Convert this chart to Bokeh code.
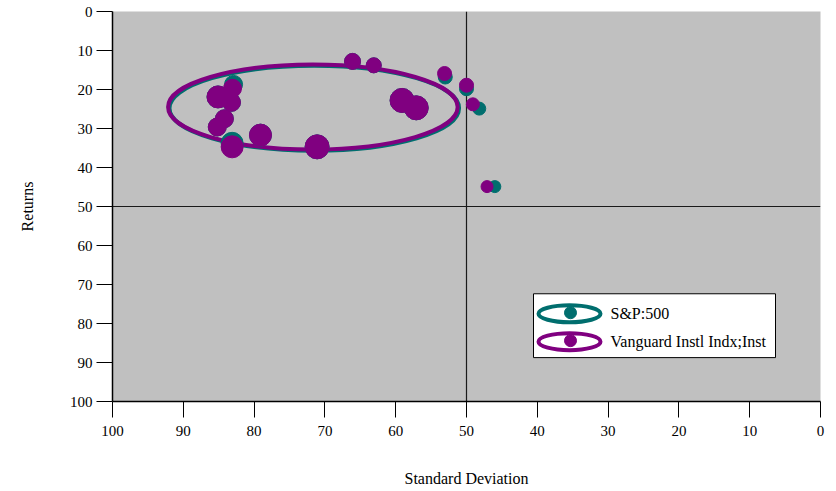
from bokeh.plotting import figure
from bokeh.models import Range1d, FixedTicker, Span
from bokeh.embed import file_html
from bokeh.resources import INLINE
from bokeh.core.properties import value

# ---- data -------------------------------------------------------------
sd_ticks = [0, 10, 20, 30, 40, 50, 60, 70, 80, 90, 100]
ret_ticks = [0, 10, 20, 30, 40, 50, 60, 70, 80, 90, 100]
quadrant_sd = 50
quadrant_ret = 50

series_names = ["S&P:500", "Vanguard Instl Indx;Inst"]

# S&P 500 (teal)
sp_sd = [66.1, 63.1, 53.0, 50.0, 48.2, 46.0, 59.1, 57.1, 71.1, 79.1, 83.1, 85.2, 84.2, 85.1, 82.9, 83.2]
sp_ret = [12.8, 13.8, 16.8, 19.8, 24.9, 44.9, 22.8, 24.7, 34.7, 31.7, 33.8, 29.6, 27.5, 21.9, 18.7, 23.3]
sp_size = [16, 15, 14, 14, 13, 12, 24, 24, 24, 22, 22, 18, 18, 22, 18, 18]

# Vanguard Instl Indx;Inst (purple)
vg_sd = [66.1, 63.1, 53.1, 50.0, 49.1, 47.1, 59.1, 57.1, 71.1, 79.1, 83.1, 85.2, 84.2, 85.1, 83.05, 83.2]
vg_ret = [12.8, 13.8, 15.9, 18.9, 23.8, 44.9, 22.8, 24.7, 34.7, 31.7, 34.7, 29.6, 27.5, 21.9, 19.7, 23.3]
vg_size = [16, 15, 14, 14, 13, 12, 24, 24, 24, 22, 22, 18, 18, 22, 18, 18]

# summary ellipses (centre sd, centre return, sd width, return height)
ell_sd = [71.5, 71.7]
ell_ret = [24.8, 24.5]
ell_w = [40.9, 40.9]
ell_h = [21.8, 21.8]

teal = "#006e6e"
purple = "#800080"
serif = "Liberation Serif"

# ---- figure -----------------------------------------------------------
p = figure(width=828, height=489,
           x_range=Range1d(100, 0), y_range=Range1d(100, 0),
           output_backend="svg", toolbar_location=None,
           min_border_left=112, min_border_right=8,
           min_border_top=11, min_border_bottom=87,
           background_fill_color="#c0c0c0", border_fill_color="white")
p.outline_line_color = None
p.grid.visible = False
p.extra_x_ranges = {"px": Range1d(0, 708)}
p.extra_y_ranges = {"px": Range1d(391, 0)}

for ax in (p.xaxis[0], p.yaxis[0]):
    ax.major_tick_out = 16
    ax.major_tick_in = 0
    ax.minor_tick_line_color = None
    ax.axis_line_color = "black"
    ax.axis_line_width = 1.5
    ax.major_tick_line_color = "black"
    ax.major_label_text_font = serif
    ax.major_label_text_font_size = "15px"
    ax.major_label_text_color = "black"
    ax.axis_label_text_font = serif
    ax.axis_label_text_font_size = "16px"
    ax.axis_label_text_font_style = "normal"
    ax.axis_label_text_color = "black"

p.xaxis.ticker = FixedTicker(ticks=sd_ticks)
p.yaxis.ticker = FixedTicker(ticks=ret_ticks)
p.xaxis.axis_label = "Standard Deviation"
p.yaxis.axis_label = "Returns"
p.xaxis.major_label_standoff = 8
p.xaxis.axis_label_standoff = 31
p.yaxis.major_label_standoff = 4
p.yaxis.axis_label_standoff = 31

p.add_layout(Span(location=quadrant_sd, dimension="height", line_color="#1a1a1a",
                  line_width=1.2, level="underlay"))
p.add_layout(Span(location=quadrant_ret, dimension="width", line_color="#1a1a1a",
                  line_width=1.2, level="underlay"))

# ellipses
p.ellipse(x=[ell_sd[0]], y=[ell_ret[0]], width=[ell_w[0]], height=[ell_h[0]],
          fill_color=None, line_color=teal, line_width=4)
p.ellipse(x=[ell_sd[1]], y=[ell_ret[1]], width=[ell_w[1]], height=[ell_h[1]],
          fill_color=None, line_color=purple, line_width=4)

# points
p.scatter(sp_sd, sp_ret, size=sp_size, marker="circle", fill_color=teal, line_color=teal)
p.scatter(vg_sd, vg_ret, size=vg_size, marker="circle", fill_color=purple, line_color=purple)

# ---- legend (drawn in frame pixel coordinates) -----------------------
p.rect(x=[542], y=[315], width=[242], height=[64], x_range_name="px", y_range_name="px",
       fill_color="white", line_color="black", line_width=1, level="annotation")
legend_rows = [303, 331]
legend_cols = [teal, purple]
for row, col, name in zip(legend_rows, legend_cols, series_names):
    p.ellipse(x=[457], y=[row], width=[62], height=[17], x_range_name="px", y_range_name="px",
              fill_color=None, line_color=col, line_width=4, level="overlay")
    p.scatter(x=[458], y=[row - 1], size=12, marker="circle", x_range_name="px", y_range_name="px",
              fill_color=col, line_color=col, level="overlay")
    p.text(x=[498], y=[row], text=[name], x_range_name="px", y_range_name="px",
           text_font=value(serif), text_font_size="16px", text_color="black",
           text_align="left", text_baseline="middle", level="overlay")

open("out.html", "w").write(file_html(p, INLINE))
